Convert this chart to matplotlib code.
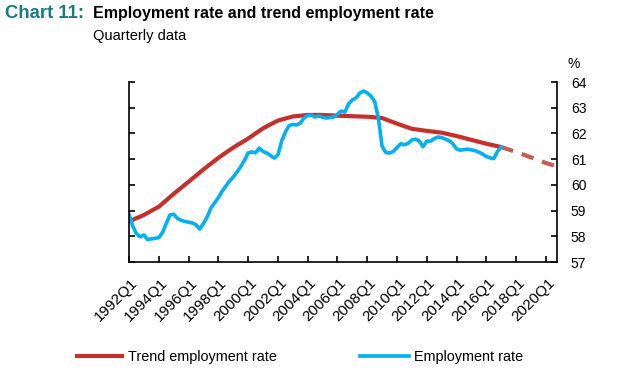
import matplotlib
matplotlib.use("Agg")
import matplotlib.pyplot as plt
import matplotlib.transforms as mtransforms
import numpy as np

plt.rcParams['font.family'] = ['Liberation Sans', 'DejaVu Sans']

# quarterly employment rate, 1992Q1 .. 2017Q1
emp_rate = [58.85, 58.4, 58.1, 57.98, 58.05, 57.87, 57.9, 57.92, 57.95, 58.15,
            58.5, 58.83, 58.86, 58.7, 58.62, 58.58, 58.55, 58.52, 58.45, 58.28,
            58.5, 58.75, 59.1, 59.3, 59.5, 59.75, 59.95, 60.15, 60.3, 60.5,
            60.7, 60.95, 61.24, 61.28, 61.25, 61.43, 61.3, 61.24, 61.15, 61.04,
            61.16, 61.7, 62.05, 62.3, 62.35, 62.33, 62.4, 62.6, 62.7, 62.72,
            62.64, 62.68, 62.63, 62.6, 62.62, 62.64, 62.75, 62.87, 62.83, 63.15,
            63.3, 63.38, 63.57, 63.65, 63.58, 63.45, 63.25, 62.6, 61.5, 61.26,
            61.24, 61.3, 61.45, 61.6, 61.56, 61.62, 61.74, 61.78, 61.7, 61.48,
            61.7, 61.7, 61.8, 61.86, 61.84, 61.78, 61.72, 61.6, 61.4, 61.35,
            61.37, 61.39, 61.36, 61.33, 61.27, 61.2, 61.1, 61.05, 61.02, 61.3,
            61.47]

# trend, Q1 of each year 1992..2017
trend_q = [0, 4, 8, 12, 16, 20, 24, 28, 32, 36, 40, 44, 48, 52, 56, 60, 64,
           68, 72, 76, 80, 84, 88, 92, 96, 100]
trend = [58.58, 58.83, 59.15, 59.65, 60.12, 60.6, 61.05, 61.45, 61.8, 62.2,
         62.5, 62.66, 62.72, 62.72, 62.69, 62.67, 62.65, 62.6, 62.38, 62.18,
         62.1, 62.03, 61.9, 61.75, 61.6, 61.47]
# projected trend
proj_q = [100, 104, 108, 112, 115]
proj = [61.47, 61.28, 61.07, 60.85, 60.72]

tick_labels = [f"{y}Q1" for y in range(1992, 2021, 2)]
tick_pos = [(y - 1992) * 4 for y in range(1992, 2021, 2)]

red = '#C4302B'
red_light = '#C55A56'
blue = '#00B0F0'
teal = '#1B7A82'

fig = plt.figure(figsize=(6.39, 3.75), dpi=100)
ax = fig.add_axes([0.2019, 0.3013, 0.6698, 0.48])

ax.plot(trend_q, trend, color=red, lw=3.0, solid_capstyle='butt', label='Trend employment rate')
ax.plot(proj_q, proj, color=red_light, lw=3.0, ls=(0, (3, 2.2)), dash_capstyle='butt')
ax.plot(np.arange(len(emp_rate)), emp_rate, color=blue, lw=2.6, label='Employment rate')

ax.set_xlim(0, 115)
ax.set_ylim(57, 64)
ax.set_yticks(range(57, 65))
ax.set_xticks(tick_pos)
ax.set_xticklabels([])

# rotated category labels, shifted a bit right of their ticks like the original
offset = mtransforms.ScaledTranslation(1.5 / 100, -14 / 100, fig.dpi_scale_trans)
for pos, lab in zip(tick_pos, tick_labels):
    ax.text(pos, 0, lab, transform=ax.get_xaxis_transform() + offset,
            rotation=45, ha='right', va='top', rotation_mode='anchor', fontsize=11)

ax.spines['top'].set_visible(False)
for s in ['left', 'right', 'bottom']:
    ax.spines[s].set_linewidth(1.2)
ax.tick_params(axis='x', direction='in', length=4, width=1.2, pad=4)
ax.tick_params(axis='y', direction='in', length=4, width=1.2, left=True, right=True,
               labelleft=False, labelright=True, labelsize=10, pad=10)

ax.text(1.04, 1.06, '%', transform=ax.transAxes, fontsize=10, ha='center', va='bottom')

fig.text(0.008, 0.965, 'Chart 11:', color=teal, fontsize=13.3, fontweight='bold', va='center')
fig.text(0.145, 0.965, 'Employment rate and trend employment rate', color='black',
         fontsize=11.55, fontweight='bold', va='center')
fig.text(0.145, 0.905, 'Quarterly data', fontsize=10.5, va='center')

fig.legend(loc='center left', bbox_to_anchor=(0.097, 0.048), ncol=2, frameon=False,
           fontsize=10.4, handlelength=3.4, handletextpad=0.3, columnspacing=5.75)

fig.savefig('out.png', dpi=100)
